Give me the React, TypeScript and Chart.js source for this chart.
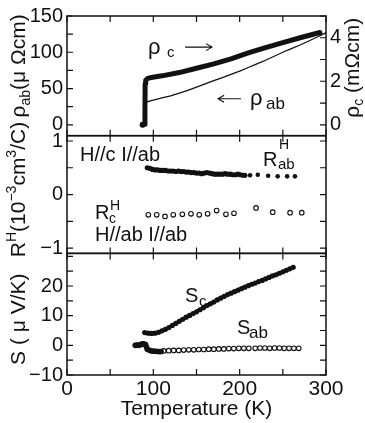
import React, { useEffect, useRef } from 'react';
import { Chart, registerables } from 'chart.js';

Chart.register(...registerables);

const FONT = '"Liberation Sans", Arial, Helvetica, sans-serif';
const INK = '#111';

// ---------- Data ----------
// Top panel: in-plane resistivity rho_ab (μΩcm, left axis)
const rhoAbT = [88.5, 90, 90.5, 100, 110, 120, 130, 140, 150, 160, 170, 180, 190, 200, 210, 220, 230, 240, 250, 260, 270, 280, 290, 300];
const rhoAbVal = [0, 10, 31, 34, 37, 40, 43.5, 47.5, 52, 56.5, 61, 65, 69.5, 74, 79, 84, 89, 94.5, 100, 105, 110, 115.5, 121, 127];

// Top panel: out-of-plane resistivity rho_c (mΩcm, right axis)
const rhoCT = [87.6, 89.8, 90.3, 90.5, 91.2, 93, 96, 110, 130, 150, 170, 190, 210, 230, 250, 270, 293];
const rhoCVal = [0, 0.02, 0.8, 1.9, 2.05, 2.12, 2.16, 2.25, 2.4, 2.6, 2.8, 3.03, 3.3, 3.55, 3.78, 4.0, 4.24];

// Middle panel: Hall coefficient R^H_ab (H//c, I//ab), dense part
const rHabT = [93, 96, 99, 102, 105, 108, 111, 114, 117, 120, 123, 126, 129, 132, 135, 138, 141, 144, 147, 150, 153, 156, 159, 162, 165, 168, 171, 174, 177, 180, 183, 186, 189, 192, 195, 198, 201, 204, 206];
const rHabVal = [0.5, 0.49, 0.47, 0.46, 0.46, 0.45, 0.45, 0.45, 0.44, 0.44, 0.44, 0.43, 0.44, 0.43, 0.43, 0.42, 0.42, 0.41, 0.41, 0.4, 0.4, 0.39, 0.4, 0.41, 0.4, 0.39, 0.38, 0.38, 0.38, 0.38, 0.39, 0.38, 0.38, 0.37, 0.37, 0.38, 0.37, 0.36, 0.36];
// R^H_ab sparse high-T points
const rHabSparseT = [212, 221, 233, 244, 255, 264];
const rHabSparseVal = [0.36, 0.37, 0.35, 0.34, 0.34, 0.34];

// Middle panel: R^H_c (H//ab, I//ab)
const rHcT = [94.2, 103.9, 113.5, 123.1, 133.6, 143.6, 153.2, 162.9, 173.3, 184.1, 193.4, 219, 238.3, 258.4, 271.9];
const rHcVal = [-0.38, -0.38, -0.41, -0.38, -0.37, -0.36, -0.38, -0.36, -0.3, -0.37, -0.35, -0.25, -0.33, -0.34, -0.34];

// Bottom panel: thermopower S_c (μV/K)
const sCT = [90, 94, 98, 102, 106, 110, 114, 118, 122, 126, 130, 134, 138, 142, 146, 150, 154, 158, 162, 166, 170, 174, 178, 182, 186, 190, 194, 198, 202, 206, 210, 214, 218, 222, 226, 230, 234, 238, 242, 246, 250, 254, 258, 262];
const sCVal = [4.3, 4.1, 4.0, 4.1, 4.4, 4.9, 5.4, 6.0, 6.7, 7.4, 8.1, 8.8, 9.5, 10.1, 10.7, 11.3, 12.0, 12.7, 13.4, 14.0, 14.6, 15.3, 15.9, 16.5, 17.1, 17.6, 18.1, 18.6, 19.1, 19.6, 20.1, 20.6, 21.0, 21.5, 21.9, 22.4, 22.9, 23.4, 23.8, 24.3, 24.8, 25.3, 25.8, 26.3];

// Bottom panel: S_ab, low-temperature dense part
const sAbLowT = [79, 80.5, 82, 83.5, 85, 86.5, 88, 89.5, 91, 92, 93, 95, 97, 99, 101, 103, 105, 107, 109];
const sAbLowVal = [0.0, 0.1, 0.0, 0.1, 0.2, 0.4, 0.5, 0.4, 0.3, -0.6, -1.3, -1.6, -1.8, -1.9, -2.0, -2.0, -2.1, -2.1, -2.1];
// S_ab open circles
const sAbT = [112, 117.8, 123.6, 129.4, 135.2, 141, 146.8, 152.6, 158.4, 164.2, 170, 175.8, 181.6, 187.4, 193.2, 199, 204.8, 210.6, 218, 223.6, 229.2, 234.8, 240.4, 246, 251.6, 257.2, 262.8, 268.4];
const sAbVal = [-1.9, -1.8, -1.7, -1.7, -1.6, -1.5, -1.5, -1.4, -1.4, -1.3, -1.3, -1.2, -1.2, -1.1, -1.1, -1.0, -1.0, -1.0, -1.0, -0.9, -0.9, -1.0, -0.9, -0.9, -1.0, -1.0, -1.0, -1.0];

// Axis tick settings
const xTickValues = [0, 100, 200, 300];

const pts = (xs: number[], ys: number[]) => xs.map((x, i) => ({ x, y: ys[i] }));
const minus = (v: number) => (v < 0 ? '\u2212' + Math.abs(v) : String(v));

type Seg = [string, number, number];

function drawRotRich(ctx: CanvasRenderingContext2D, segs: Seg[], cx: number, cy: number) {
  ctx.save();
  ctx.translate(cx, cy);
  ctx.rotate(-Math.PI / 2);
  ctx.textBaseline = 'alphabetic';
  ctx.textAlign = 'left';
  let total = 0;
  const widths = segs.map(([t, s]) => {
    ctx.font = `${s}px ${FONT}`;
    const w = ctx.measureText(t).width;
    total += w;
    return w;
  });
  let x = -total / 2;
  segs.forEach(([t, s, dy], i) => {
    ctx.font = `${s}px ${FONT}`;
    ctx.fillText(t, x, dy);
    x += widths[i];
  });
  ctx.restore();
}

// annotation labels placed in data coordinates
const annotations: { text: string; T: number; v: number; y: string; size: number }[] = [
  { text: 'ρ', T: 93.8, v: 97.7, y: 'yTop', size: 22 },
  { text: 'c', T: 115.8, v: 93.7, y: 'yTop', size: 15 },
  { text: 'ρ', T: 212, v: 26.6, y: 'yTop', size: 22 },
  { text: 'ab', T: 230.5, v: 21.2, y: 'yTop', size: 17 },
  { text: 'H//c I//ab', T: 15.1, v: 0.627, y: 'yMid', size: 20 },
  { text: 'R', T: 227, v: 0.536, y: 'yMid', size: 20 },
  { text: 'H', T: 245.6, v: 0.845, y: 'yMid', size: 14 },
  { text: 'ab', T: 244.4, v: 0.482, y: 'yMid', size: 15 },
  { text: 'R', T: 32.4, v: -0.464, y: 'yMid', size: 20 },
  { text: 'H', T: 49.8, v: -0.282, y: 'yMid', size: 14 },
  { text: 'c', T: 48.7, v: -0.536, y: 'yMid', size: 14 },
  { text: 'H//ab I//ab', T: 32.4, v: -0.864, y: 'yMid', size: 20 },
  { text: 'S', T: 136.7, v: 14.6, y: 'yBot', size: 20 },
  { text: 'c', T: 152.9, v: 13.3, y: 'yBot', size: 15 },
  { text: 'S', T: 196.9, v: 3.78, y: 'yBot', size: 20 },
  { text: 'ab', T: 210.8, v: 2.47, y: 'yBot', size: 17 },
];
const arrows: { T1: number; T2: number; v: number; y: string }[] = [
  { T1: 136.7, T2: 168, v: 107.1, y: 'yTop' },
  { T1: 201.5, T2: 175, v: 36, y: 'yTop' },
];

const framePlugin = {
  id: 'framesAndText',
  afterDatasetsDraw(chart: any) {
    const { ctx, chartArea, scales } = chart;
    const xs = scales.x;
    const tl = 6;
    ctx.save();
    ctx.strokeStyle = INK;
    const panels = [['yTop', 'yTopR'], ['yMid', 'yMidR'], ['yBot', 'yBotR']];
    for (const [l, r] of panels) {
      const L = scales[l];
      const R = scales[r];
      ctx.lineWidth = 1.5;
      ctx.strokeRect(chartArea.left, L.top, chartArea.right - chartArea.left, L.bottom - L.top);
      ctx.lineWidth = 1.2;
      ctx.beginPath();
      for (const t of xs.ticks) {
        const p = xs.getPixelForValue(t.value);
        ctx.moveTo(p, L.top);
        ctx.lineTo(p, L.top + tl);
        ctx.moveTo(p, L.bottom);
        ctx.lineTo(p, L.bottom - tl);
      }
      for (const t of L.ticks) {
        const p = L.getPixelForValue(t.value);
        ctx.moveTo(chartArea.left, p);
        ctx.lineTo(chartArea.left + tl, p);
      }
      for (const t of R.ticks) {
        const p = R.getPixelForValue(t.value);
        ctx.moveTo(chartArea.right, p);
        ctx.lineTo(chartArea.right - tl, p);
      }
      ctx.stroke();
    }

    // annotations
    ctx.fillStyle = INK;
    ctx.textAlign = 'left';
    ctx.textBaseline = 'alphabetic';
    for (const a of annotations) {
      ctx.font = `${a.size}px ${FONT}`;
      ctx.fillText(a.text, xs.getPixelForValue(a.T), scales[a.y].getPixelForValue(a.v));
    }
    ctx.lineWidth = 1.1;
    for (const a of arrows) {
      const x1 = xs.getPixelForValue(a.T1);
      const x2 = xs.getPixelForValue(a.T2);
      const y = scales[a.y].getPixelForValue(a.v);
      const d = x2 > x1 ? 1 : -1;
      ctx.beginPath();
      ctx.moveTo(x1, y);
      ctx.lineTo(x2, y);
      ctx.moveTo(x2 - d * 6, y - 3.5);
      ctx.lineTo(x2, y);
      ctx.lineTo(x2 - d * 6, y + 3.5);
      ctx.stroke();
    }

    // axis titles
    const mid = (s: any) => (s.top + s.bottom) / 2;
    drawRotRich(ctx, [['ρ', 21, 0], ['ab', 14, 5], ['(μ Ωcm)', 21, 0]], 25, mid(scales.yTop) - 10);
    drawRotRich(ctx, [['R', 21, 0], ['H', 14, -9], ['(10', 21, 0], ['\u22123', 14, -9], ['cm', 21, 0], ['3', 14, -9], ['/C)', 21, 0]], 25, mid(scales.yMid) - 5);
    drawRotRich(ctx, [['S ( μ V/K)', 21, 0]], 25, mid(scales.yBot) + 5);
    drawRotRich(ctx, [['ρ', 21, 0], ['c', 14, 4], [' (mΩcm)', 21, 0]], 359, mid(scales.yTopR) - 8);
    ctx.restore();
  },
};

const tickFont = { family: FONT, size: 20 };

function leftAxis(min: number, max: number, step: number, weight: number, labelEvery: number, skip: number[] = []) {
  return {
    type: 'linear',
    position: 'left',
    stack: 'left',
    stackWeight: weight,
    min,
    max,
    grid: { display: false, drawTicks: false },
    border: { display: false },
    ticks: {
      stepSize: step,
      includeBounds: false,
      autoSkip: false,
      padding: 4,
      color: INK,
      font: tickFont,
      callback: (v: number) => {
        const r = Math.round(v / labelEvery);
        if (Math.abs(v - r * labelEvery) > 1e-6 || skip.includes(v)) return '';
        return minus(Math.round(v * 100) / 100);
      },
    },
    afterFit: (s: any) => {
      s.width = 67;
    },
  };
}

function rightAxis(min: number, max: number, step: number, weight: number, labels: boolean) {
  return {
    type: 'linear',
    position: 'right',
    stack: 'right',
    stackWeight: weight,
    min,
    max,
    grid: { display: false, drawTicks: false },
    border: { display: false },
    ticks: {
      stepSize: step,
      includeBounds: false,
      autoSkip: false,
      padding: 4,
      color: INK,
      font: tickFont,
      callback: (v: number) => (labels && Math.abs(v / 2 - Math.round(v / 2)) < 1e-6 ? minus(v) : ''),
    },
    afterFit: (s: any) => {
      s.width = 39;
    },
  };
}

export default function App() {
  const ref = useRef<HTMLCanvasElement>(null);
  useEffect(() => {
    const canvas = ref.current!;
    const chart = new Chart(canvas, {
      type: 'scatter',
      data: {
        datasets: [
          {
            label: 'ρab',
            data: pts(rhoAbT, rhoAbVal),
            yAxisID: 'yTop',
            showLine: true,
            borderColor: INK,
            borderWidth: 1.3,
            pointRadius: 0,
          },
          {
            label: 'ρc',
            data: pts(rhoCT, rhoCVal),
            yAxisID: 'yTopR',
            showLine: true,
            borderColor: INK,
            backgroundColor: INK,
            borderWidth: 5,
            borderCapStyle: 'round',
            borderJoinStyle: 'round',
            pointBorderWidth: 0,
            pointRadius: (c: any) => (c.dataIndex === 0 ? 3 : 0),
          },
          {
            label: 'RHab',
            data: pts(rHabT, rHabVal),
            yAxisID: 'yMid',
            backgroundColor: INK,
            borderColor: INK,
            borderWidth: 0,
            pointRadius: 2.6,
          },
          {
            label: 'RHab sparse',
            data: pts(rHabSparseT, rHabSparseVal),
            yAxisID: 'yMid',
            backgroundColor: INK,
            borderColor: INK,
            borderWidth: 0,
            pointRadius: 2.3,
          },
          {
            label: 'RHc',
            data: pts(rHcT, rHcVal),
            yAxisID: 'yMid',
            backgroundColor: '#fff',
            borderColor: INK,
            borderWidth: 1.1,
            pointRadius: 2.3,
          },
          {
            label: 'Sc',
            data: pts(sCT, sCVal),
            yAxisID: 'yBot',
            showLine: true,
            borderColor: INK,
            backgroundColor: INK,
            borderWidth: 3.5,
            pointRadius: 2.6,
            pointBorderWidth: 0,
          },
          {
            label: 'Sab low',
            data: pts(sAbLowT, sAbLowVal),
            yAxisID: 'yBot',
            showLine: true,
            borderColor: INK,
            backgroundColor: INK,
            borderWidth: 4,
            pointRadius: 2.8,
            pointBorderWidth: 0,
          },
          {
            label: 'Sab',
            data: pts(sAbT, sAbVal),
            yAxisID: 'yBot',
            backgroundColor: '#fff',
            borderColor: INK,
            borderWidth: 1.1,
            pointRadius: 2.3,
          },
        ],
      },
      options: {
        responsive: false,
        animation: false,
        devicePixelRatio: 1,
        events: [],
        layout: { padding: { top: 6, left: 0, right: 0, bottom: 0 } },
        plugins: { legend: { display: false }, tooltip: { enabled: false } },
        scales: {
          x: {
            type: 'linear',
            position: 'bottom',
            min: 0,
            max: 300,
            grid: { display: false, drawTicks: false },
            border: { display: false },
            ticks: {
              stepSize: 50,
              autoSkip: false,
              maxRotation: 0,
              padding: 2,
              color: INK,
              font: { family: FONT, size: 21 },
              callback: (v: number) => (xTickValues.includes(v) ? String(v) : ''),
            },
            title: {
              display: true,
              text: 'Temperature (K)',
              color: INK,
              font: { family: FONT, size: 21 },
              padding: { top: 0, bottom: 1 },
            },
            afterFit: (s: any) => {
              s.height = 48;
            },
          },
          yBot: leftAxis(-10, 31, 5, 125, 10, [30]),
          yMid: leftAxis(-1.1, 1.1, 0.5, 121, 1),
          yTop: leftAxis(-15, 150, 25, 123, 50),
          yTopR: rightAxis(-0.5, 5, 1, 123, true),
          yMidR: rightAxis(-1.1, 1.1, 0.5, 121, false),
          yBotR: rightAxis(-10, 31, 5, 125, false),
        },
      } as any,
      plugins: [framePlugin],
    } as any);
    return () => chart.destroy();
  }, []);

  return (
    <div style={{ position: 'fixed', left: 0, top: 0, width: 365, height: 423, background: '#fff' }}>
      <canvas ref={ref} width={365} height={423} style={{ display: 'block', width: 365, height: 423 }} />
    </div>
  );
}
